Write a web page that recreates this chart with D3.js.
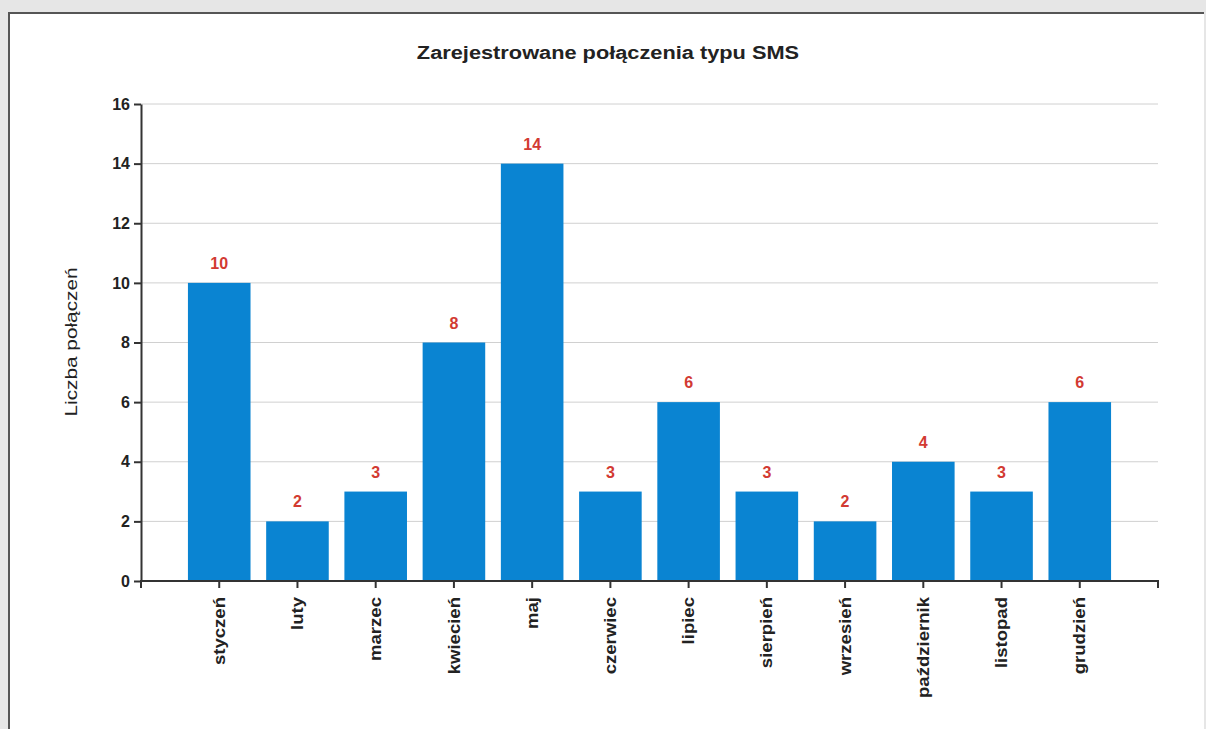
<!DOCTYPE html>
<html>
<head>
<meta charset="utf-8">
<script src="https://cdn.jsdelivr.net/npm/d3@7"></script>
<style>
    body { margin: 0; background: #e6e6e6; }
    #chart { position: absolute; left: 8px; top: 12px; width: 1194px; height: 717px;
             background: #fff; border-left: 2px solid #555; border-top: 2px solid #555; }
</style>
</head>
<body>
<div id="chart"></div>
<script>
var months = ["styczeń", "luty", "marzec", "kwiecień", "maj", "czerwiec", "lipiec",
              "sierpień", "wrzesień", "październik", "listopad", "grudzień"];
var counts = [10, 2, 3, 8, 14, 3, 6, 3, 2, 4, 3, 6];
var yTicks = [0, 2, 4, 6, 8, 10, 12, 14, 16];

var chart = function() {
    var width = 1196, height = 719;
    // plot area in page coordinates, shifted by the panel offset
    var offX = 10, offY = 14;
    var left = 141 - offX, right = 1158 - offX;
    var top = 104 - offY, bottom = 581 - offY;
    var font = "'Liberation Sans', Arial, sans-serif";

    var svg = d3.select("#chart").append("svg")
        .attr("width", width)
        .attr("height", height);

    // one empty step before the first bar and after the last
    var step = (right - left) / (months.length + 1);
    var x = d3.scaleBand()
        .domain(months)
        .range([left + step / 2, right - step / 2])
        .paddingInner(0.2)
        .paddingOuter(0.1);

    var y = d3.scaleLinear().domain([0, 16]).range([bottom, top]);

    // grid
    svg.append("g").selectAll("line")
        .data(yTicks.slice(1))
        .enter().append("line")
        .attr("x1", left).attr("x2", right)
        .attr("y1", function(d) { return y(d); })
        .attr("y2", function(d) { return y(d); })
        .attr("stroke", "#d0d0d0")
        .attr("stroke-width", 1);

    // bars
    svg.append("g").selectAll("rect")
        .data(counts)
        .enter().append("rect")
        .attr("x", function(d, i) { return x(months[i]); })
        .attr("y", function(d) { return y(d); })
        .attr("width", x.bandwidth())
        .attr("height", function(d) { return y(0) - y(d); })
        .attr("fill", "#0a84d2");

    // value labels
    svg.append("g").selectAll("text")
        .data(counts)
        .enter().append("text")
        .attr("x", function(d, i) { return x(months[i]) + x.bandwidth() / 2; })
        .attr("y", function(d) { return y(d) - 14; })
        .attr("text-anchor", "middle")
        .attr("style", "font-size: 16px; font-weight: bold; font-family: " + font)
        .attr("fill", "#d23a32")
        .text(function(d) { return d; });

    // y axis
    var yAxis = d3.axisLeft(y).tickValues(yTicks).tickSize(7).tickSizeOuter(0);
    var gy = svg.append("g")
        .attr("transform", "translate(" + left + ",0)")
        .call(yAxis);
    gy.select(".domain").attr("stroke", "#333").attr("stroke-width", 2);
    gy.selectAll(".tick line").attr("stroke", "#333").attr("stroke-width", 2);
    gy.selectAll(".tick text")
        .attr("x", -11)
        .attr("fill", "#222")
        .attr("style", "font-size: 16px; font-weight: bold; font-family: " + font);

    // x axis
    var xAxis = d3.axisBottom(x).tickSize(7).tickSizeOuter(0);
    var gx = svg.append("g")
        .attr("transform", "translate(0," + bottom + ")")
        .call(xAxis);
    gx.select(".domain").remove();
    gx.append("path")
        .attr("d", "M" + left + ",7V0H" + right + "V7")
        .attr("fill", "none")
        .attr("stroke", "#333")
        .attr("stroke-width", 2);
    gx.selectAll(".tick line").attr("stroke", "#333").attr("stroke-width", 2);
    // the scanned labels are stretched along their reading direction
    gx.selectAll(".tick text")
        .attr("transform", "rotate(-90) translate(-16,0) scale(1.16,1)")
        .attr("x", 0)
        .attr("y", 0)
        .attr("dy", "0.35em")
        .attr("text-anchor", "end")
        .attr("fill", "#222")
        .attr("style", "font-size: 16px; font-weight: bold; font-family: " + font);

    // title
    svg.append("text")
        .attr("transform", "translate(" + (608 - offX) + "," + (59 - offY) + ") scale(1.21,1)")
        .attr("text-anchor", "middle")
        .attr("fill", "#222")
        .attr("style", "font-size: 18px; font-weight: bold; font-family: " + font)
        .text("Zarejestrowane połączenia typu SMS");

    // y axis label
    svg.append("text")
        .attr("transform", "translate(" + (77 - offX) + "," + (342 - offY) + ") rotate(-90) scale(1.3,1)")
        .attr("text-anchor", "middle")
        .attr("fill", "#222")
        .attr("style", "font-size: 16px; font-family: " + font)
        .text("Liczba połączeń");
};

chart();
</script>
</body>
</html>
